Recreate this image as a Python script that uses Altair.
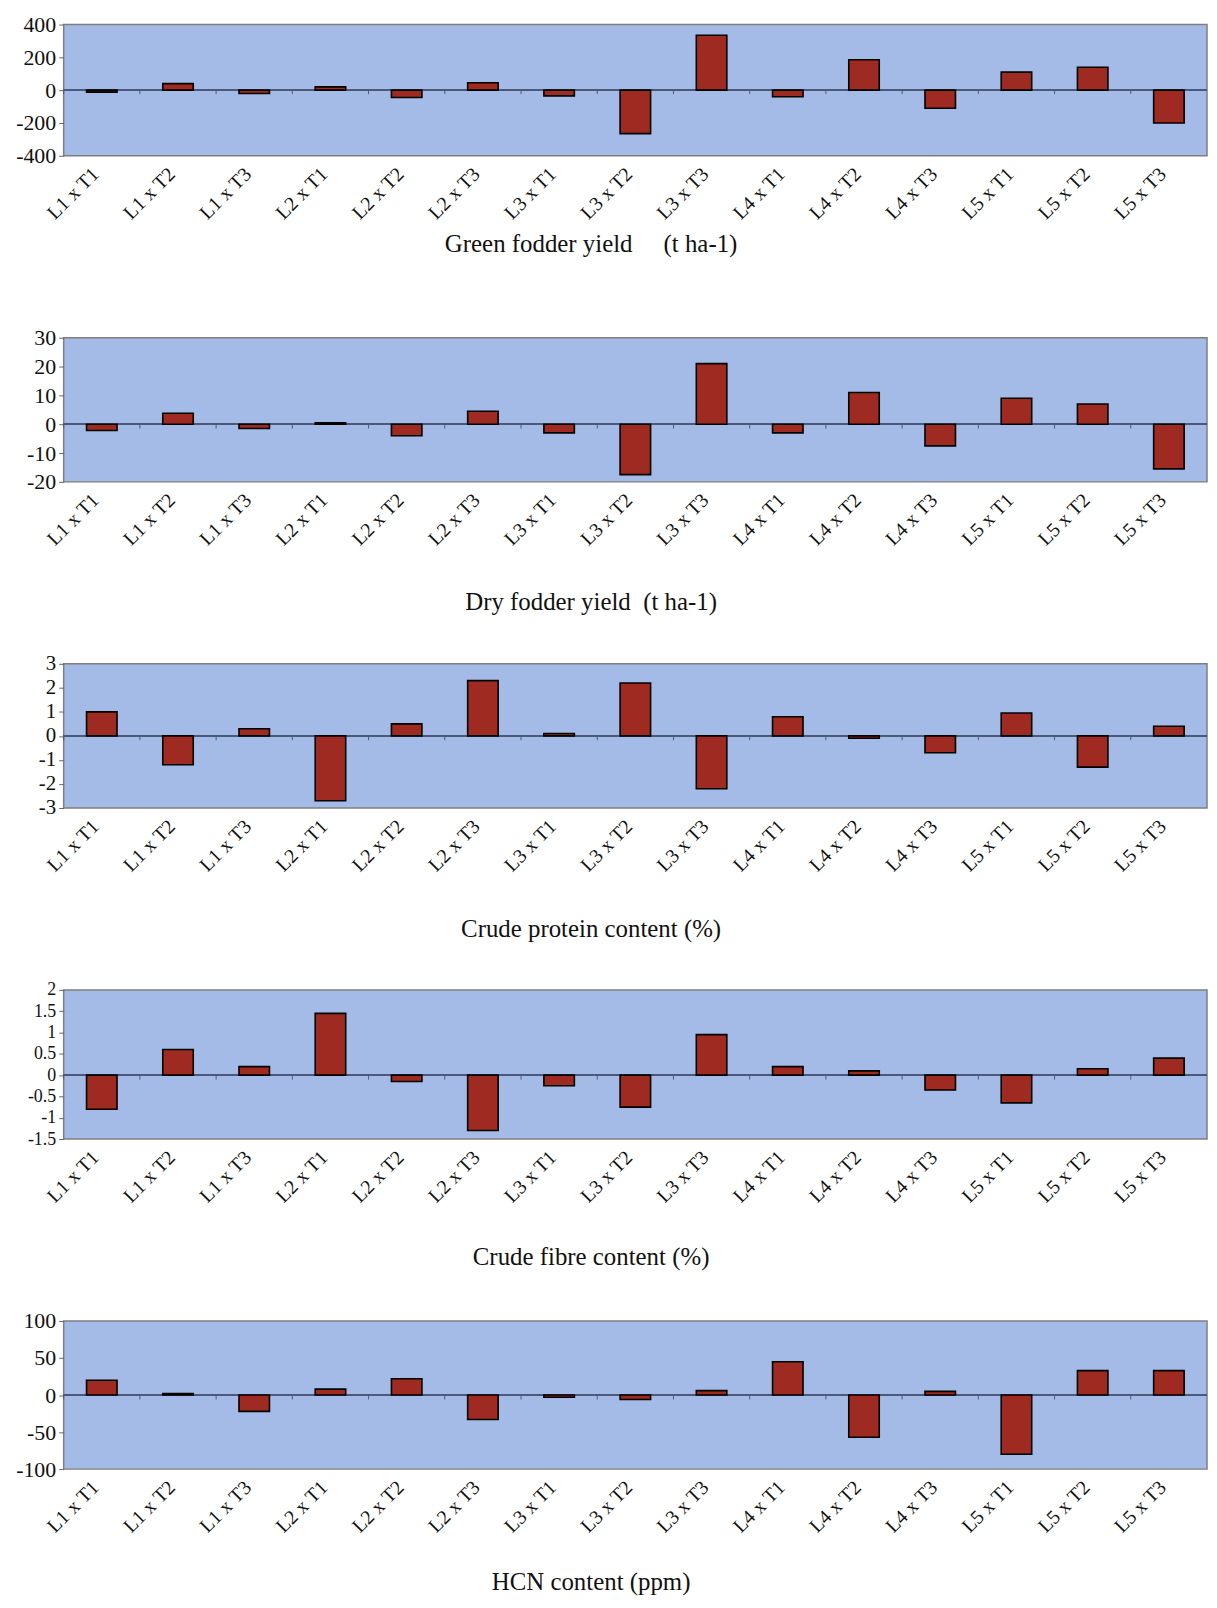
import altair as alt
import pandas as pd

cats = ["L1 x T1", "L1 x T2", "L1 x T3", "L2 x T1", "L2 x T2", "L2 x T3",
        "L3 x T1", "L3 x T2", "L3 x T3", "L4 x T1", "L4 x T2", "L4 x T3",
        "L5 x T1", "L5 x T2", "L5 x T3"]

green_fodder = [-12, 40, -20, 20, -45, 45, -35, -265, 335, -40, 185, -110, 110, 140, -200]
dry_fodder = [-2.2, 3.8, -1.5, 0.5, -4.0, 4.5, -3.0, -17.5, 21.0, -3.0, 11.0, -7.5, 9.0, 7.0, -15.5]
crude_protein = [1.0, -1.2, 0.3, -2.7, 0.5, 2.3, 0.1, 2.2, -2.2, 0.8, -0.1, -0.7, 0.95, -1.3, 0.4]
crude_fibre = [-0.8, 0.6, 0.2, 1.45, -0.15, -1.3, -0.25, -0.75, 0.95, 0.2, 0.1, -0.35, -0.65, 0.15, 0.4]
hcn = [20, 2, -22, 8, 22, -33, -3, -6, 6, 45, -57, 5, -80, 33, 33]

titles = ["Green fodder yield\u00a0\u00a0\u00a0\u00a0 (t ha-1)",
          "Dry fodder yield\u00a0 (t ha-1)",
          "Crude protein content (%)",
          "Crude fibre content (%)",
          "HCN content (ppm)"]

domains = [[-400, 400], [-20, 30], [-3, 3], [-1.5, 2], [-100, 100]]
tick_values = [[-400, -200, 0, 200, 400],
               [-20, -10, 0, 10, 20, 30],
               [-3, -2, -1, 0, 1, 2, 3],
               [-1.5, -1, -0.5, 0, 0.5, 1, 1.5, 2],
               [-100, -50, 0, 50, 100]]
series = [green_fodder, dry_fodder, crude_protein, crude_fibre, hcn]
heights = [132, 145, 145, 150, 149]
title_y = [88, 120, 121, 118, 113]
ylabel_sizes = [22, 22, 21, 18, 22]

FONT = "Liberation Serif"
RED = "#9e2a22"
W = 1150
STEP = W / len(cats)


def panel(vals, dom, ticks, title, h, ty, yfs):
    df = pd.DataFrame({"cat": cats, "v": vals})
    yscale = alt.Scale(domain=dom, nice=False, zero=False)
    xscale = alt.Scale(paddingInner=0.6, paddingOuter=0.3)
    xaxis = alt.Axis(
        title=title, labelAngle=-45, labelAlign="right", labelBaseline="middle",
        labelFontSize=20, labelPadding=15, labelOffset=-6, domain=False, ticks=False,
        labelOverlap=False,
        titleFontSize=25, titleFontWeight="normal", titleBaseline="middle",
        titleY=ty, titleX=530, titleAlign="center",
        labelFont=FONT, titleFont=FONT, labelColor="#111111", titleColor="#111111",
    )
    yaxis = alt.Axis(
        values=ticks, labelExpr="'' + datum.value", title=None, grid=False,
        domain=False, tickSize=5, tickColor="#666666", labelFontSize=yfs,
        labelPadding=3, labelOverlap=False,
        labelFont=FONT, labelColor="#111111",
    )
    base = alt.Chart(df)
    zero = base.mark_rule(color="#4d5a7a", strokeWidth=1).encode(
        y=alt.datum(0, scale=yscale, axis=yaxis)
    )
    d = (dom[1] - dom[0]) * 0.03
    tk = base.mark_rule(color="#4d5a7a", strokeWidth=1, xOffset=-STEP / 2).encode(
        x=alt.X("cat:N", sort=cats, scale=xscale, axis=xaxis),
        y=alt.datum(0, axis=yaxis),
        y2=alt.datum(-d),
    )
    bars = base.mark_bar(fill=RED, stroke="black", strokeWidth=1.6).encode(
        x=alt.X("cat:N", sort=cats, scale=xscale, axis=xaxis),
        y=alt.Y("v:Q", scale=yscale, axis=yaxis),
    )
    return alt.layer(zero, tk, bars).properties(width=W, height=h)


panels = [panel(series[i], domains[i], tick_values[i], titles[i], heights[i],
                title_y[i], ylabel_sizes[i])
          for i in range(5)]

chart = alt.vconcat(*panels, spacing=183, bounds="flush").properties(
    padding={"left": 6, "top": 0, "right": 0, "bottom": 0},
    background="#ffffff",
).configure_view(
    fill="#a4bbe8", stroke="#7f7f7f", strokeWidth=1.5
)

chart.save("out.html", embed_options={"renderer": "svg", "actions": False})
